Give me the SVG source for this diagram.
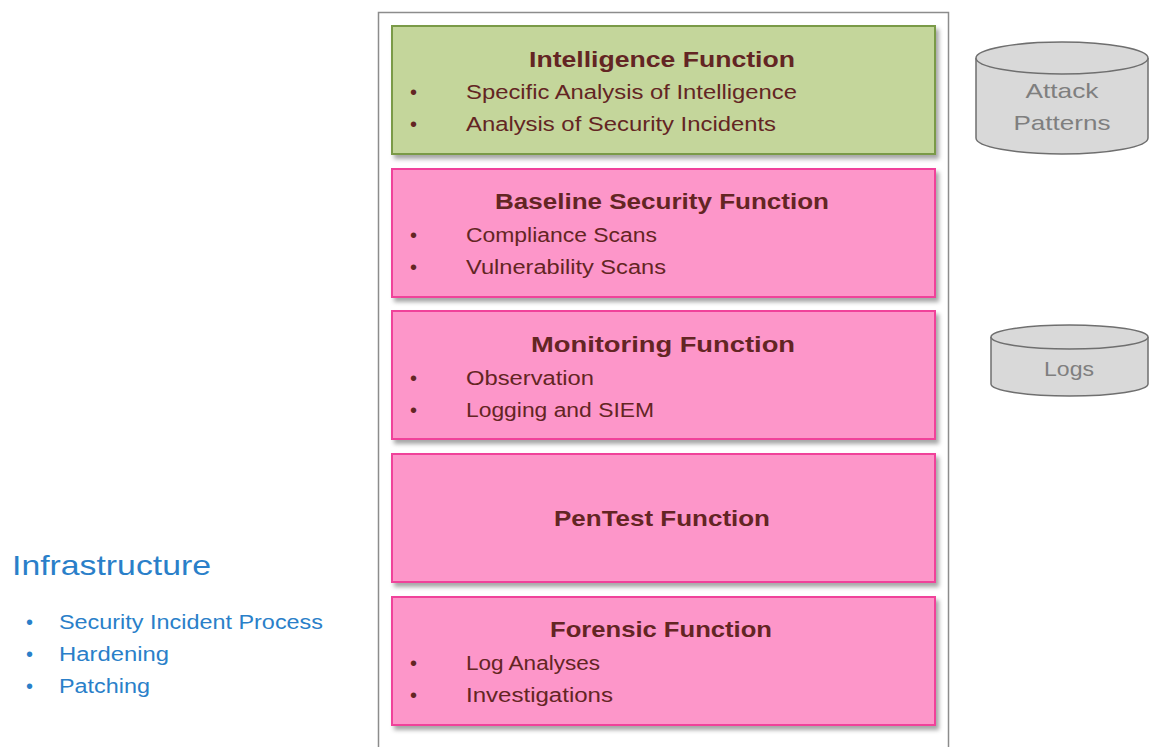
<svg xmlns="http://www.w3.org/2000/svg" width="1157" height="747" viewBox="0 0 1157 747">
<style>
.box{stroke-width:2;filter:url(#sh)}
.pink{fill:#fd96c9;stroke:#f0429a}
.green{fill:#c4d69b;stroke:#7a9a46}
text{font-family:"Liberation Sans",Arial,sans-serif}
.title{font-weight:bold;font-size:22px;fill:#632523;text-anchor:middle}
.item{font-size:20px;fill:#632523}
.cyl{fill:#d9d9d9;stroke:#6f6f6f;stroke-width:1.5}
.ctext{font-size:21px;fill:#7f7f7f;text-anchor:middle}
.infra{fill:#2a7fc9}
</style>
<defs>
<filter id="sh" x="-5%" y="-10%" width="115%" height="130%">
<feDropShadow dx="3" dy="4" stdDeviation="2" flood-color="#000" flood-opacity="0.35"/>
</filter>
</defs>
<rect width="1157" height="747" fill="#fff"/>
<g id="frame"><rect x="378.5" y="12.5" width="570" height="740" fill="#fff" stroke="#8c8c8c" stroke-width="1.5"/></g>
<g id="intelligence">
<rect class="box green" x="392" y="26" width="543" height="128"/>
<text class="title" x="662" y="67" textLength="266" lengthAdjust="spacingAndGlyphs">Intelligence Function</text>
<text class="item" x="410" y="99">•</text><text class="item" x="466" y="99" textLength="331" lengthAdjust="spacingAndGlyphs">Specific Analysis of Intelligence</text>
<text class="item" x="410" y="131">•</text><text class="item" x="466" y="131" textLength="310" lengthAdjust="spacingAndGlyphs">Analysis of Security Incidents</text>
</g>
<g id="baseline">
<rect class="box pink" x="392" y="169" width="543" height="128"/>
<text class="title" x="662" y="209" textLength="334" lengthAdjust="spacingAndGlyphs">Baseline Security Function</text>
<text class="item" x="410" y="242">•</text><text class="item" x="466" y="242" textLength="191" lengthAdjust="spacingAndGlyphs">Compliance Scans</text>
<text class="item" x="410" y="274">•</text><text class="item" x="466" y="274" textLength="200" lengthAdjust="spacingAndGlyphs">Vulnerability Scans</text>
</g>
<g id="monitoring">
<rect class="box pink" x="392" y="311" width="543" height="128"/>
<text class="title" x="663" y="352" textLength="264" lengthAdjust="spacingAndGlyphs">Monitoring Function</text>
<text class="item" x="410" y="385">•</text><text class="item" x="466" y="385" textLength="128" lengthAdjust="spacingAndGlyphs">Observation</text>
<text class="item" x="410" y="417">•</text><text class="item" x="466" y="417" textLength="188" lengthAdjust="spacingAndGlyphs">Logging and SIEM</text>
</g>
<g id="pentest">
<rect class="box pink" x="392" y="454" width="543" height="128"/>
<text class="title" x="662" y="526" textLength="216" lengthAdjust="spacingAndGlyphs">PenTest Function</text>
</g>
<g id="forensic">
<rect class="box pink" x="392" y="597" width="543" height="128"/>
<text class="title" x="661" y="637" textLength="222" lengthAdjust="spacingAndGlyphs">Forensic Function</text>
<text class="item" x="410" y="670">•</text><text class="item" x="466" y="670" textLength="134" lengthAdjust="spacingAndGlyphs">Log Analyses</text>
<text class="item" x="410" y="702">•</text><text class="item" x="466" y="702" textLength="147" lengthAdjust="spacingAndGlyphs">Investigations</text>
</g>
<g id="attack-patterns">
<path class="cyl" d="M976,58 L976,138 A86,16 0 0 0 1148,138 L1148,58"/>
<ellipse class="cyl" cx="1062" cy="58" rx="86" ry="16"/>
<text class="ctext" x="1062" y="98" textLength="73" lengthAdjust="spacingAndGlyphs">Attack</text>
<text class="ctext" x="1062" y="130" textLength="97" lengthAdjust="spacingAndGlyphs">Patterns</text>
</g>
<g id="logs">
<path class="cyl" d="M991,337 L991,384 A78.5,12 0 0 0 1148,384 L1148,337"/>
<ellipse class="cyl" cx="1069.5" cy="337" rx="78.5" ry="12"/>
<text class="ctext" x="1069" y="376" textLength="50" lengthAdjust="spacingAndGlyphs">Logs</text>
</g>
<g id="infrastructure">
<text class="infra" x="12" y="575" font-size="28" textLength="199" lengthAdjust="spacingAndGlyphs">Infrastructure</text>
<text class="infra" x="26" y="629" font-size="20">•</text><text class="infra" x="59" y="629" font-size="20" textLength="264" lengthAdjust="spacingAndGlyphs">Security Incident Process</text>
<text class="infra" x="26" y="661" font-size="20">•</text><text class="infra" x="59" y="661" font-size="20" textLength="110" lengthAdjust="spacingAndGlyphs">Hardening</text>
<text class="infra" x="26" y="693" font-size="20">•</text><text class="infra" x="59" y="693" font-size="20" textLength="91" lengthAdjust="spacingAndGlyphs">Patching</text>
</g>
<g id="connectors"></g>
</svg>
